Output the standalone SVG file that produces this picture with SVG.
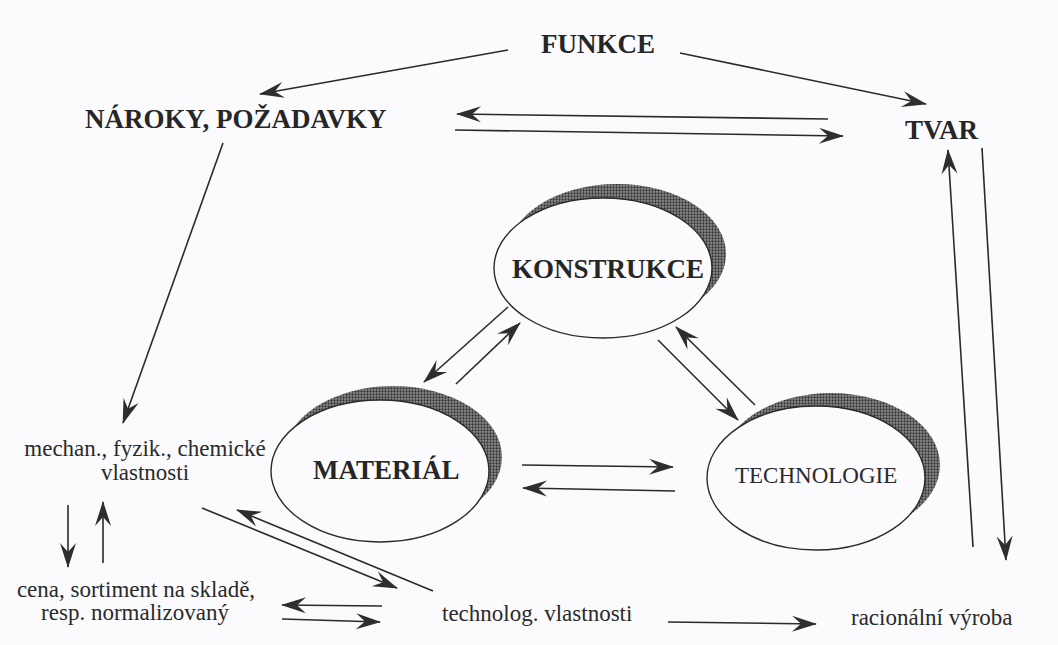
<svg xmlns="http://www.w3.org/2000/svg" width="1058" height="645" viewBox="0 0 1058 645">
<style>
.b{font-family:'Liberation Serif',Tinos,'Times New Roman','DejaVu Serif',serif;font-weight:bold;font-size:27px;fill:#262626}
.r{font-family:'Liberation Serif',Tinos,'Times New Roman','DejaVu Serif',serif;font-size:23px;fill:#2a2a2a}
.c line{stroke:#2a2a2a;stroke-width:1.6;fill:none;marker-end:url(#ah)}
.sh{fill:url(#ht)}
.el{fill:#fbfbfd;stroke:#2a2a2a;stroke-width:1.4}
</style>
<defs>
<pattern id="ht" width="3" height="3" patternUnits="userSpaceOnUse">
<rect width="3" height="3" fill="#8e8e8e"/>
<circle cx="1.5" cy="1.5" r="1.15" fill="#333"/>
</pattern>
<marker id="ah" viewBox="-26 -9 28 18" refX="0" refY="0" markerWidth="28" markerHeight="18" markerUnits="userSpaceOnUse" orient="auto">
<path d="M1,0 L-24,-8 L-15,0 L-24,8 Z" fill="#2e2e2e"/>
</marker>
</defs>
<rect width="1058" height="645" fill="#fbfbfd"/>
<g id="funkce"><text class="b" x="541" y="53">FUNKCE</text></g>
<g id="naroky"><text class="b" x="85" y="128">NÁROKY, POŽADAVKY</text></g>
<g id="tvar"><text class="b" x="905" y="139">TVAR</text></g>
<g id="konstrukce">
<ellipse class="sh" cx="617" cy="254" rx="109" ry="70"/>
<ellipse class="el" cx="603" cy="268" rx="109" ry="70"/>
<text class="b" x="512" y="278">KONSTRUKCE</text>
</g>
<g id="material">
<ellipse class="sh" cx="393" cy="457" rx="109" ry="71"/>
<ellipse class="el" cx="380" cy="471" rx="109" ry="71"/>
<text class="b" x="313" y="479">MATERIÁL</text>
</g>
<g id="technologie">
<ellipse class="sh" cx="831" cy="465" rx="109" ry="72"/>
<ellipse class="el" cx="816" cy="478" rx="109" ry="72"/>
<text class="r" x="735" y="483">TECHNOLOGIE</text>
</g>
<g id="vlastnosti">
<text class="r" x="145" y="456" text-anchor="middle">mechan., fyzik., chemické</text>
<text class="r" x="145" y="480" text-anchor="middle">vlastnosti</text>
</g>
<g id="cena">
<text class="r" x="136" y="597" text-anchor="middle">cena, sortiment na skladě,</text>
<text class="r" x="135" y="620" text-anchor="middle">resp. normalizovaný</text>
</g>
<g id="technolog"><text class="r" x="442" y="621">technolog. vlastnosti</text></g>
<g id="racionalni"><text class="r" x="851" y="625">racionální výroba</text></g>
<g id="connectors" class="c">
<line x1="508" y1="50" x2="260" y2="94"/>
<line x1="680" y1="53" x2="926" y2="104"/>
<line x1="828" y1="119" x2="457" y2="114"/>
<line x1="455" y1="130" x2="843" y2="136"/>
<line x1="223" y1="143" x2="123" y2="423"/>
<line x1="508" y1="307" x2="424" y2="382"/>
<line x1="456" y1="384" x2="520" y2="323"/>
<line x1="755" y1="405" x2="676" y2="327"/>
<line x1="658" y1="340" x2="738" y2="420"/>
<line x1="522" y1="465" x2="673" y2="467"/>
<line x1="675" y1="491" x2="523" y2="488"/>
<line x1="68" y1="505" x2="68" y2="567"/>
<line x1="103" y1="563" x2="103" y2="502"/>
<line x1="202" y1="508" x2="397" y2="588"/>
<line x1="433" y1="591" x2="237" y2="510"/>
<line x1="382" y1="606" x2="282" y2="605"/>
<line x1="282" y1="619" x2="380" y2="622"/>
<line x1="668" y1="622" x2="816" y2="624"/>
<line x1="973" y1="547" x2="948" y2="150"/>
<line x1="982" y1="148" x2="1006" y2="560"/>
</g>
</svg>
